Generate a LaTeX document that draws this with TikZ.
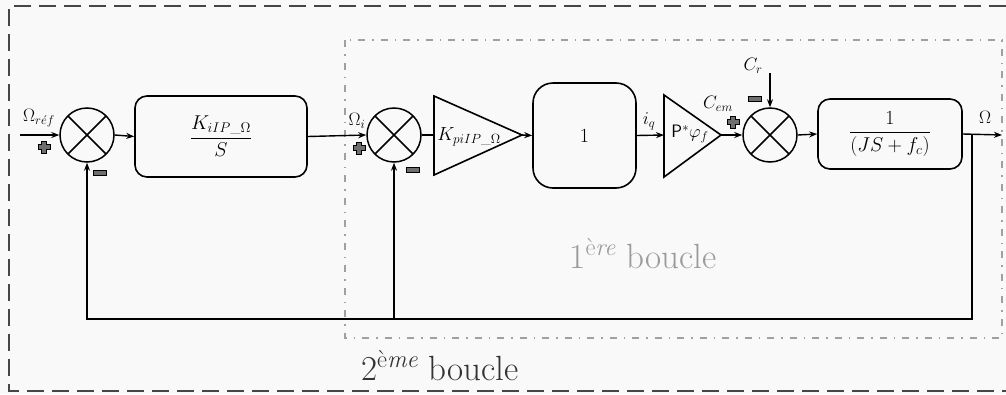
\RequirePackage{fix-cm}
\documentclass[tikz,border=0pt]{standalone}
\usepackage{amsmath}
\usetikzlibrary{arrows.meta}
\definecolor{bg}{RGB}{249,249,249}
\definecolor{outerc}{RGB}{70,70,70}
\definecolor{innerc}{RGB}{160,160,160}
\definecolor{signc}{RGB}{110,110,110}
\definecolor{txtgray}{RGB}{155,155,155}
\tikzset{
  sumnode/.style={circle, draw, line width=1.5pt, minimum size=54pt, inner sep=0pt,
    path picture={\draw[line width=1.5pt] (path picture bounding box.north west) -- (path picture bounding box.south east)
      (path picture bounding box.north east) -- (path picture bounding box.south west);}},
  blk/.style={draw, line width=1.6pt, rounded corners=12pt, inner sep=0pt},
  tri/.style={draw, line width=1.6pt, line join=miter},
  conn/.style={line width=1.4pt},
  arr/.style={line width=1.4pt, -{Stealth[length=8pt,width=6pt]}},
  lbl/.style={inner sep=0pt, font=\fontsize{18}{21}\selectfont},
  outerbox/.style={draw=outerc, line width=1.8pt, dash pattern=on 17pt off 8pt},
  innerbox/.style={draw=innerc, line width=1.5pt, dash pattern=on 7pt off 7pt on 1.5pt off 7pt},
  pics/plussign/.style={code={\filldraw[fill=signc, draw=black, line width=0.8pt]
    (-2.5,-6) -- (2.5,-6) -- (2.5,-2.5) -- (6,-2.5) -- (6,2.5) -- (2.5,2.5) -- (2.5,6)
    -- (-2.5,6) -- (-2.5,2.5) -- (-6,2.5) -- (-6,-2.5) -- (-2.5,-2.5) -- cycle;}},
  pics/minussign/.style={code={\filldraw[fill=signc, draw=black, line width=0.8pt]
    (-6.5,-2.8) rectangle (6.5,2.8);}}
}
\begin{document}
\begin{tikzpicture}[x=1pt,y=-1pt, font=\fontsize{20}{24}\selectfont]
\path[use as bounding box, fill=bg] (0,0) rectangle (1006,394);

% frames
\draw[outerbox] (1006,6) -- (9,6) -- (9,391) -- (1006,391);
\draw[innerbox] (345,40) rectangle (1002,338);

% summing junctions
\node[sumnode] (s1) at (87,135) {};
\node[sumnode] (s2) at (394,135) {};
\node[sumnode] (s3) at (770,135) {};

% blocks
\node[blk, minimum width=172pt, minimum height=81pt] (b1) at (221,136.5) {$\dfrac{K_{iIP\_\Omega}}{S}$};
\node[blk, rounded corners=20pt, minimum width=103pt, minimum height=105pt] (b2) at (584.5,135.5) {1};
\node[blk, minimum width=144pt, minimum height=70pt] (b3) at (890,134) {$\dfrac{1}{(JS+f_c)}$};

% triangles (gains)
\coordinate (t1in) at (434,135);
\coordinate (t1out) at (522,135);
\draw[tri] (434,96) -- (t1out) -- (434,175) -- cycle;
\node[lbl, font=\fontsize{19}{22}\selectfont] (k1) at (469,137) {$K_{piIP\_\Omega}$};
\coordinate (t2in) at (664,135);
\coordinate (t2out) at (721,135);
\draw[tri] (664,95) -- (t2out) -- (664,177) -- cycle;
\node[lbl] (k2) at (690,134) {\textsf{P}$^{*}\varphi_f$};

% connector endpoints
\coordinate (in) at (20,135);
\coordinate (out) at (1002,135);
\coordinate (fb) at (972,135);
\coordinate (fbr) at (972,319);
\coordinate (fbl) at (87,319);
\coordinate (fbm) at (394,319);
\coordinate (cr) at (770,73);

% connectors
\draw[arr] (in) -- (s1.west);
\draw[arr] (s1.east) -- (b1.west);
\draw[arr] (b1.east) -- (s2.west);
\draw[conn] (s2.east) -- (t1in);
\draw[arr] (t1out) -- (b2.west);
\draw[arr] (b2.east) -- (t2in);
\draw[arr] (t2out) -- (s3.west);
\draw[arr] (s3.east) -- (b3.west);
\draw[arr] (b3.east) -- (out);
\draw[arr] (fb) -- (fbr) -- (fbl) -- (s1.south);
\draw[arr] (fbm) -- (s2.south);
\draw[arr] (cr) -- (s3.north);

% signal labels
\node[lbl] (lref) at (39,118) {$\Omega_{r\acute{e}f}$};
\node[lbl] (li) at (357,121) {$\Omega_i$};
\node[lbl] (liq) at (649,121) {$i_q$};
\node[lbl] (lcem) at (718,104) {$C_{em}$};
\node[lbl] (lcr) at (753,66) {$C_r$};
\node[lbl] (lout) at (985,117) {$\Omega$};

% signs
\pic at (44,147) {plussign};
\pic at (100,173) {minussign};
\pic at (359,148) {plussign};
\pic at (413,170) {minussign};
\pic at (733,122) {plussign};
\pic at (755,99) {minussign};

% loop labels
\node[lbl, text=txtgray, font=\fontsize{35}{40}\selectfont, anchor=base] (loop1) at (643,268) {1\textsuperscript{è\textit{re}} boucle};
\node[lbl, text=black!80, font=\fontsize{35}{40}\selectfont, anchor=base] (loop2) at (440,380) {2\textsuperscript{è\textit{me}} boucle};
\end{tikzpicture}
\end{document}
